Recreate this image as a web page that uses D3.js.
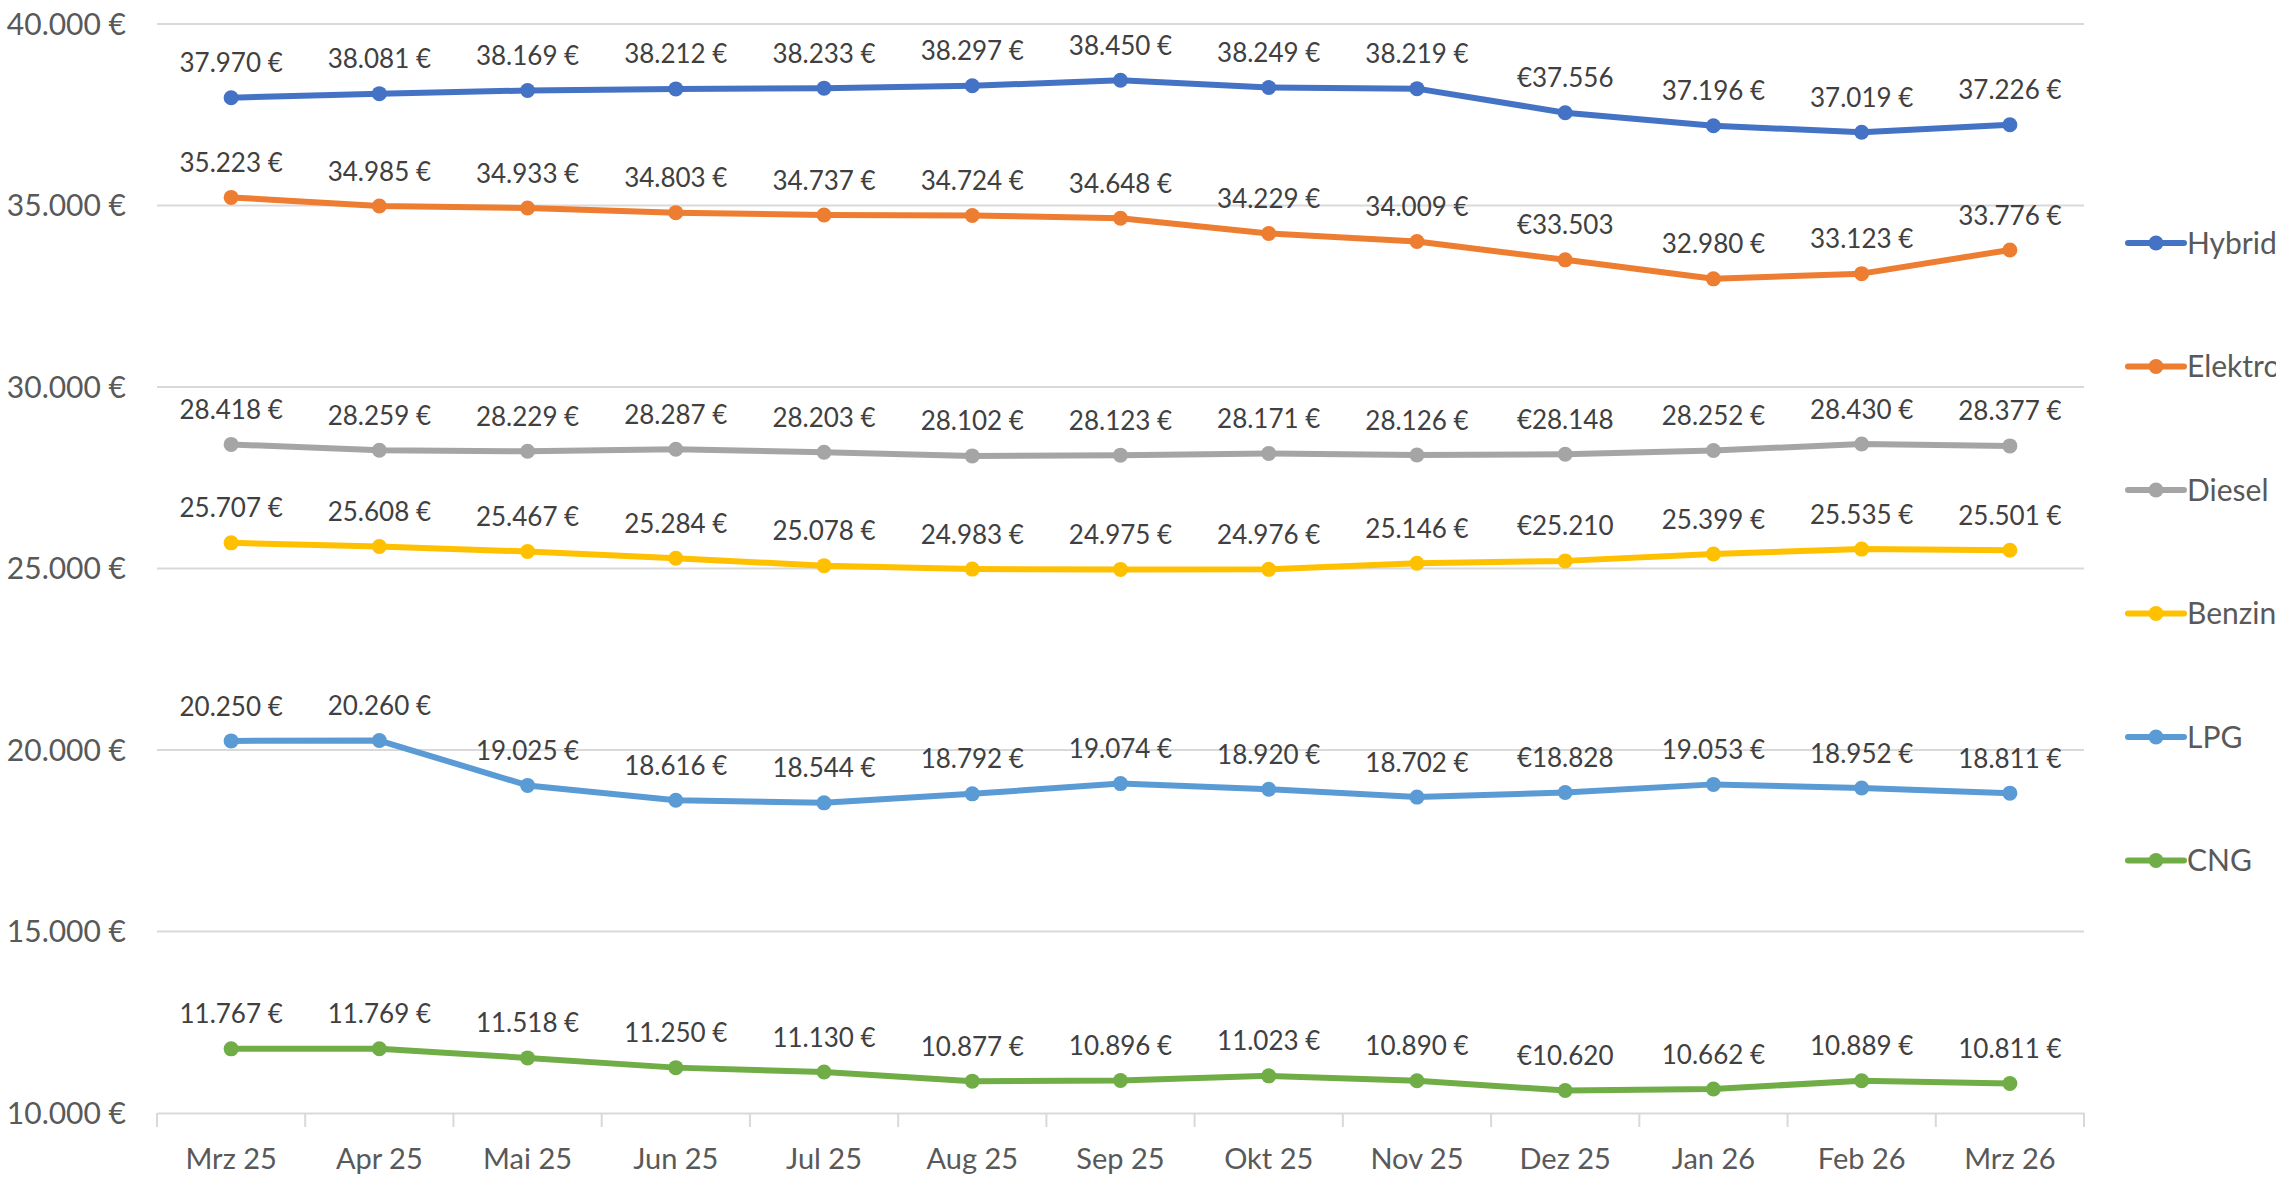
<!DOCTYPE html>
<html><head><meta charset="utf-8">
<script src="https://cdn.jsdelivr.net/npm/d3@7"></script>
<style>body{margin:0;background:#fff;overflow:hidden}svg{display:block}</style>
</head><body>
<svg id="c" width="2276" height="1181"></svg>
<script>
const months = ["Mrz 25","Apr 25","Mai 25","Jun 25","Jul 25","Aug 25","Sep 25","Okt 25","Nov 25","Dez 25","Jan 26","Feb 26","Mrz 26"];
const seriesNames = ["Hybrid","Elektro","Diesel","Benzin","LPG","CNG"];
const hybrid  = [37970,38081,38169,38212,38233,38297,38450,38249,38219,37556,37196,37019,37226];
const elektro = [35223,34985,34933,34803,34737,34724,34648,34229,34009,33503,32980,33123,33776];
const diesel  = [28418,28259,28229,28287,28203,28102,28123,28171,28126,28148,28252,28430,28377];
const benzin  = [25707,25608,25467,25284,25078,24983,24975,24976,25146,25210,25399,25535,25501];
const lpg     = [20250,20260,19025,18616,18544,18792,19074,18920,18702,18828,19053,18952,18811];
const cng     = [11767,11769,11518,11250,11130,10877,10896,11023,10890,10620,10662,10889,10811];
const yTicks  = [10000,15000,20000,25000,30000,35000,40000];
const colors  = ["#4472C4","#ED7D31","#A5A5A5","#FFC000","#5B9BD5","#70AD47"];
const prefixMonths = ["Dez 25"]; // labels shown as "€xx.xxx" in the source

(function(){
const series = [hybrid,elektro,diesel,benzin,lpg,cng].map((v,i)=>({name:seriesNames[i],values:v,color:colors[i]}));

const loc = d3.formatLocale({decimal:",",thousands:".",grouping:[3],currency:["","\u00a0€"]});
const fnum = loc.format(",.0f");
const fmtLabel = (v,m) => prefixMonths.includes(m) ? "€" + fnum(v) : fnum(v) + " €";

const svg = d3.select("#c");
const font = "Lato, 'Open Sans', sans-serif";
const pLeft = 157, pRight = 2084, pTop = 24, pBottom = 1113;

const x = d3.scaleBand().domain(months).range([pLeft,pRight]);
const y = d3.scaleLinear().domain([10000,40000]).range([pBottom,pTop]);

svg.append("g").selectAll("line").data(yTicks.slice(1)).join("line")
  .attr("x1",pLeft).attr("x2",pRight).attr("y1",d=>y(d)).attr("y2",d=>y(d))
  .attr("stroke","#d9d9d9").attr("stroke-width",2);

svg.append("g").selectAll("text").data(yTicks).join("text")
  .attr("x",126).attr("y",d=>y(d)+3).attr("text-anchor","end").attr("dominant-baseline","middle")
  .attr("font-family",font).attr("font-size",30).attr("fill","#595959")
  .text(d=>fnum(d)+" €");

const xAxis = d3.axisBottom(x).tickSize(0).tickPadding(0);
const gx = svg.append("g").attr("transform",`translate(0,${pBottom})`).call(xAxis);
gx.select(".domain").attr("stroke","#d9d9d9").attr("stroke-width",2);
gx.selectAll(".tick text").attr("font-family",font).attr("font-size",29)
  .attr("fill","#595959").attr("dy",0).attr("y",56);
const bounds = months.map(m=>x(m)).concat([pRight]);
gx.append("g").selectAll("line").data(bounds).join("line")
  .attr("x1",d=>d).attr("x2",d=>d).attr("y1",0).attr("y2",14)
  .attr("stroke","#d9d9d9").attr("stroke-width",2);

const cx = m => x(m) + x.bandwidth()/2;
const line = d3.line().x((d,i)=>cx(months[i])).y(d=>y(d));

const g = svg.append("g");
series.forEach(s=>{
  g.append("path").attr("d",line(s.values)).attr("fill","none")
    .attr("stroke",s.color).attr("stroke-width",6).attr("stroke-linejoin","round");
  g.append("g").selectAll("circle").data(s.values).join("circle")
    .attr("cx",(d,i)=>cx(months[i])).attr("cy",d=>y(d)).attr("r",7.5).attr("fill",s.color);
  g.append("g").selectAll("text").data(s.values).join("text")
    .attr("x",(d,i)=>cx(months[i])).attr("y",d=>y(d)-32)
    .attr("text-anchor","middle").attr("dominant-baseline","middle")
    .attr("font-family",font).attr("font-size",26).attr("fill","#404040")
    .text((d,i)=>fmtLabel(d,months[i]));
});

const lg = svg.append("g");
series.forEach((s,i)=>{
  const ly = 243 + i*123.5;
  lg.append("line").attr("x1",2128).attr("x2",2184).attr("y1",ly).attr("y2",ly)
    .attr("stroke",s.color).attr("stroke-width",6).attr("stroke-linecap","round");
  lg.append("circle").attr("cx",2156).attr("cy",ly).attr("r",7.5).attr("fill",s.color);
  lg.append("text").attr("x",2187).attr("y",ly+3).attr("dominant-baseline","middle")
    .attr("font-family",font).attr("font-size",30).attr("fill","#595959").text(s.name);
});
})();
</script>
</body></html>
